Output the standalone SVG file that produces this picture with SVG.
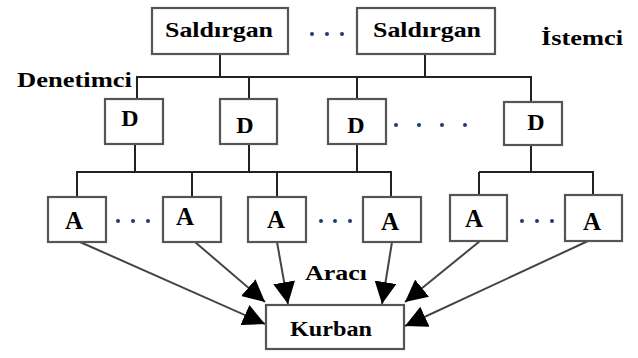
<svg xmlns="http://www.w3.org/2000/svg" width="638" height="358" viewBox="0 0 638 358">
<style>
.box{fill:#fff;stroke:#555;stroke-width:2.2}
.t{font-family:"Liberation Serif","Times New Roman","DejaVu Serif",serif;font-weight:bold;fill:#000}
.ln{stroke:#222;stroke-width:2;fill:none}
.ar{stroke:#444;stroke-width:2;fill:none;marker-end:url(#ah)}
.dot{fill:#1f3a6e}
</style>
<defs>
<marker id="ah" markerUnits="userSpaceOnUse" markerWidth="22" markerHeight="22" refX="20" refY="10" orient="auto" viewBox="0 0 20 20">
<path d="M0,0 L20,10 L0,20 z" fill="#000"/>
</marker>
</defs>
<g id="connectors">
<path class="ln" d="M220,54 V77 M425,54 V77 M136,77 H532 M137,77 V99 M249,77 V99 M357,77 V99 M531,77 V102"/>
<path class="ln" d="M135,144 V172 M249,144 V172 M357,144 V172 M531,145 V172 M76,172 H392 M479,172 H594"/>
<path class="ln" d="M77,172 V197 M192,172 V197 M277,172 V197 M391,172 V197 M479,172 V195 M593,172 V195"/>
<path class="ar" d="M80,242 L265,324"/>
<path class="ar" d="M195,242 L265,302"/>
<path class="ar" d="M277,242 L288,304"/>
<path class="ar" d="M392,242 L382,304"/>
<path class="ar" d="M480,241 L405,302"/>
<path class="ar" d="M588,241 L405,326"/>
</g>
<g id="saldirgan1"><rect class="box" x="152" y="8" width="136" height="46"/><text class="t" x="219" y="37" font-size="21" text-anchor="middle" textLength="108" lengthAdjust="spacingAndGlyphs">Saldırgan</text></g>
<g id="saldirgan2"><rect class="box" x="357" y="8" width="138" height="46"/><text class="t" x="427" y="37" font-size="21" text-anchor="middle" textLength="108" lengthAdjust="spacingAndGlyphs">Saldırgan</text></g>
<g id="dots-top"><circle class="dot" cx="312" cy="34" r="2"/><circle class="dot" cx="327" cy="34" r="2"/><circle class="dot" cx="342" cy="34" r="2"/></g>
<g id="istemci"><text class="t" x="541" y="45" font-size="21" textLength="82" lengthAdjust="spacingAndGlyphs">İstemci</text></g>
<g id="denetimci"><text class="t" x="17" y="87" font-size="21" textLength="115" lengthAdjust="spacingAndGlyphs">Denetimci</text></g>
<g id="d1"><rect class="box" x="105" y="99" width="58" height="45"/><text class="t" x="130" y="126" font-size="24" text-anchor="middle">D</text></g>
<g id="d2"><rect class="box" x="220" y="99" width="57" height="45"/><text class="t" x="245" y="133" font-size="24" text-anchor="middle">D</text></g>
<g id="d3"><rect class="box" x="328" y="99" width="58" height="45"/><text class="t" x="356" y="133" font-size="24" text-anchor="middle">D</text></g>
<g id="dots-d"><circle class="dot" cx="396" cy="125" r="2"/><circle class="dot" cx="419" cy="125" r="2"/><circle class="dot" cx="442" cy="125" r="2"/><circle class="dot" cx="465" cy="125" r="2"/></g>
<g id="d4"><rect class="box" x="504" y="102" width="58" height="43"/><text class="t" x="536" y="130" font-size="24" text-anchor="middle">D</text></g>
<g id="a1"><rect class="box" x="48" y="197" width="58" height="45"/><text class="t" x="74" y="229" font-size="25" text-anchor="middle">A</text></g>
<g id="a2"><rect class="box" x="163" y="197" width="58" height="45"/><text class="t" x="185" y="225" font-size="25" text-anchor="middle">A</text></g>
<g id="a3"><rect class="box" x="248" y="197" width="58" height="45"/><text class="t" x="276" y="228" font-size="25" text-anchor="middle">A</text></g>
<g id="a4"><rect class="box" x="363" y="197" width="58" height="45"/><text class="t" x="390" y="230" font-size="25" text-anchor="middle">A</text></g>
<g id="a5"><rect class="box" x="450" y="195" width="57" height="46"/><text class="t" x="474" y="227" font-size="25" text-anchor="middle">A</text></g>
<g id="a6"><rect class="box" x="565" y="195" width="57" height="46"/><text class="t" x="592" y="230" font-size="25" text-anchor="middle">A</text></g>
<g id="dots-a"><circle class="dot" cx="118" cy="221" r="2"/><circle class="dot" cx="133" cy="221" r="2"/><circle class="dot" cx="148" cy="221" r="2"/><circle class="dot" cx="321" cy="221" r="2"/><circle class="dot" cx="335" cy="221" r="2"/><circle class="dot" cx="350" cy="221" r="2"/><circle class="dot" cx="522" cy="221" r="2"/><circle class="dot" cx="537" cy="221" r="2"/><circle class="dot" cx="552" cy="221" r="2"/></g>
<g id="araci"><text class="t" x="305" y="280" font-size="21" textLength="62" lengthAdjust="spacingAndGlyphs">Aracı</text></g>
<g id="kurban"><rect class="box" x="266" y="305" width="138" height="44"/><text class="t" x="331" y="336" font-size="22" text-anchor="middle" textLength="82" lengthAdjust="spacingAndGlyphs">Kurban</text></g>
</svg>
